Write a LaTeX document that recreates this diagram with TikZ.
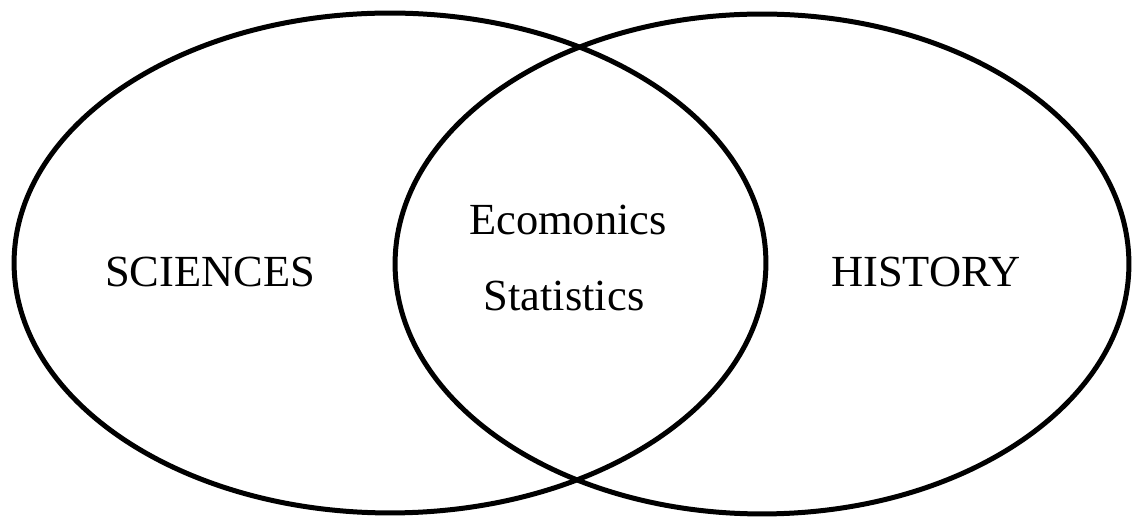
\documentclass[tikz,border=0pt]{standalone}
\usepackage{fontspec}
\setmainfont{Liberation Serif}
\usetikzlibrary{shapes}
\usetikzlibrary{positioning}

\begin{document}
\begin{tikzpicture}[x=0.02cm, y=-0.02cm]
	\tikzset{set/.style = {shape=ellipse, draw, line width=0.1cm,
			inner sep = 0pt}}
	\tikzset{setLabel/.style = {inner sep = 0pt,
			font=\fontsize{25.3}{30}\selectfont}}

	\useasboundingbox (0,0) rectangle (1137,519);

	% sets
	\node[set, minimum width=15.04cm, minimum height=10cm] (sci) at (390,263) {};
	\node[set, minimum width=14.68cm, minimum height=10cm] (hist) at (762,264) {};

	% labels
	\node[setLabel] (sciLabel) at (210,272) {SCIENCES};
	\node[setLabel] (histLabel) at (926,272) {HISTORY};
	\node[setLabel] (econ) at (568,220) {Ecomonics};
	\node[setLabel] (stat) at (564,296) {Statistics};

\end{tikzpicture}
\end{document}
